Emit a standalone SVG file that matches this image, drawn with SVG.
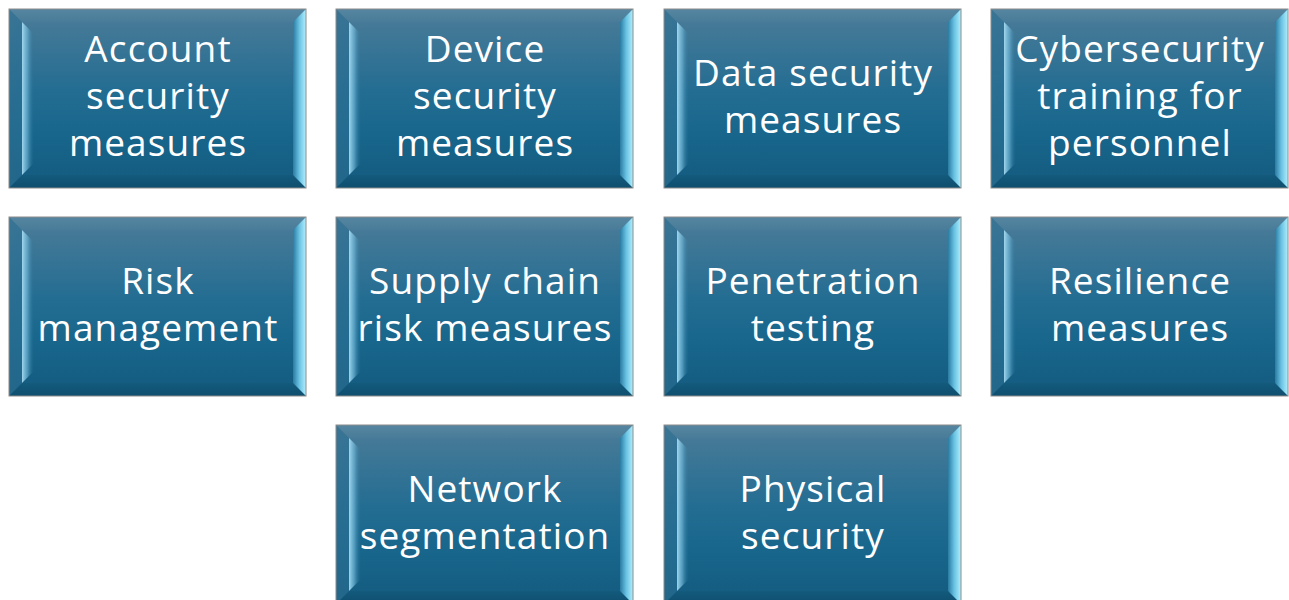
<svg xmlns="http://www.w3.org/2000/svg" xmlns:xlink="http://www.w3.org/1999/xlink" width="1289" height="600" viewBox="0 0 1289 600">
  <style>
    .label { font-family: "Open Sans", "Liberation Sans", sans-serif; font-size: 37px; letter-spacing: 1.1px; fill: #ffffff; text-anchor: middle; }
  </style>
  <defs>
    <!-- main face: lighter at the top, deep teal towards the bottom -->
    <linearGradient id="faceFill" x1="0" y1="0" x2="0" y2="1">
      <stop offset="0" stop-color="#4c7c98"/>
      <stop offset="0.45" stop-color="#246d92"/>
      <stop offset="0.7" stop-color="#18668c"/>
      <stop offset="1" stop-color="#145a7e"/>
    </linearGradient>
    <!-- highlight just inside the left bevel -->
    <linearGradient id="leftGlow" x1="0" y1="0" x2="1" y2="0">
      <stop offset="0" stop-color="#a6dcf2" stop-opacity="0.95"/>
      <stop offset="0.45" stop-color="#78bfe0" stop-opacity="0.6"/>
      <stop offset="1" stop-color="#2a7399" stop-opacity="0"/>
    </linearGradient>
    <!-- right bevel face, brightest at the outer edge -->
    <linearGradient id="rightFace" x1="0" y1="0" x2="1" y2="0">
      <stop offset="0" stop-color="#2a7ba2"/>
      <stop offset="0.5" stop-color="#6cc4e4"/>
      <stop offset="1" stop-color="#b0eefc"/>
    </linearGradient>
    <linearGradient id="topFace" x1="0" y1="0" x2="0" y2="1">
      <stop offset="0" stop-color="#5a8aa5"/>
      <stop offset="1" stop-color="#4a7d99"/>
    </linearGradient>
    <linearGradient id="bottomFace" x1="0" y1="0" x2="0" y2="1">
      <stop offset="0" stop-color="#135a7c"/>
      <stop offset="1" stop-color="#0f4e6e"/>
    </linearGradient>
    <linearGradient id="leftFace" x1="0" y1="0" x2="1" y2="0">
      <stop offset="0" stop-color="#2f6f90"/>
      <stop offset="1" stop-color="#2a6f94"/>
    </linearGradient>

    <!-- bevelled tile, 297 x 179 -->
    <g id="tile">
      <rect x="0" y="0" width="297" height="179" fill="url(#faceFill)"/>
      <polygon points="0,0 297,0 284,13 13,13" fill="url(#topFace)" opacity="0.7"/>
      <polygon points="0,179 13,166 284,166 297,179" fill="url(#bottomFace)"/>
      <polygon points="0,0 13,13 13,166 0,179" fill="url(#leftFace)" opacity="0.6"/>
      <polygon points="13,13 25,25 25,154 13,166" fill="url(#leftGlow)"/>
      <polygon points="284,13 297,0 297,179 284,166" fill="url(#rightFace)"/>
      <rect x="0" y="0" width="297" height="179" fill="none" stroke="#8c8c8c" stroke-width="1"/>
    </g>
  </defs>

  <rect width="1289" height="600" fill="#ffffff"/>

  <g id="account-security">
    <use xlink:href="#tile" x="9" y="9"/>
    <text class="label" x="158"><tspan y="62">Account</tspan><tspan x="158" y="109">security</tspan><tspan x="158" y="156">measures</tspan></text>
  </g>
  <g id="device-security">
    <use xlink:href="#tile" x="336" y="9"/>
    <text class="label" x="485"><tspan y="62">Device</tspan><tspan x="485" y="109">security</tspan><tspan x="485" y="156">measures</tspan></text>
  </g>
  <g id="data-security">
    <use xlink:href="#tile" x="664" y="9"/>
    <text class="label" x="813"><tspan y="86">Data security</tspan><tspan x="813" y="133">measures</tspan></text>
  </g>
  <g id="cyber-training">
    <use xlink:href="#tile" x="991" y="9"/>
    <text class="label" x="1140"><tspan y="62">Cybersecurity</tspan><tspan x="1140" y="109">training for</tspan><tspan x="1140" y="156">personnel</tspan></text>
  </g>

  <g id="risk-management">
    <use xlink:href="#tile" x="9" y="217"/>
    <text class="label" x="158"><tspan y="294">Risk</tspan><tspan x="158" y="341">management</tspan></text>
  </g>
  <g id="supply-chain">
    <use xlink:href="#tile" x="336" y="217"/>
    <text class="label" x="485"><tspan y="294">Supply chain</tspan><tspan x="485" y="341">risk measures</tspan></text>
  </g>
  <g id="penetration-testing">
    <use xlink:href="#tile" x="664" y="217"/>
    <text class="label" x="813"><tspan y="294">Penetration</tspan><tspan x="813" y="341">testing</tspan></text>
  </g>
  <g id="resilience">
    <use xlink:href="#tile" x="991" y="217"/>
    <text class="label" x="1140"><tspan y="294">Resilience</tspan><tspan x="1140" y="341">measures</tspan></text>
  </g>

  <g id="network-segmentation">
    <use xlink:href="#tile" x="336" y="425"/>
    <text class="label" x="485"><tspan y="502">Network</tspan><tspan x="485" y="549">segmentation</tspan></text>
  </g>
  <g id="physical-security">
    <use xlink:href="#tile" x="664" y="425"/>
    <text class="label" x="813"><tspan y="502">Physical</tspan><tspan x="813" y="549">security</tspan></text>
  </g>

  <g id="connectors"/>
</svg>
